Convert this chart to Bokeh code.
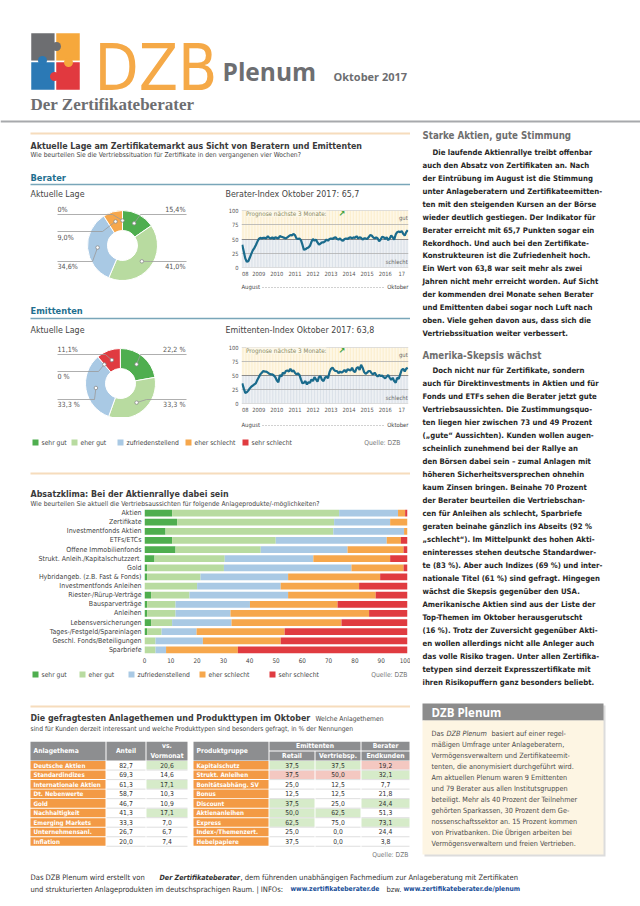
import math
import subprocess
from bokeh.plotting import figure
from bokeh.layouts import column, row
from bokeh.models import Range1d, FactorRange, FixedTicker, ColumnDataSource, Label
from bokeh.core.properties import value
from bokeh.embed import file_html
from bokeh.resources import INLINE

# ============================ DATA ============================
rating_names = ["sehr gut", "eher gut", "zufriedenstellend", "eher schlecht", "sehr schlecht"]

berater_shares = [15.4, 41.0, 34.6, 9.0, 0.0]
berater_share_labels = ["15,4%", "41,0%", "34,6%", "9,0%", "0%"]
emittenten_shares = [22.2, 33.3, 33.3, 0.0, 11.1]
emittenten_share_labels = ["22,2 %", "33,3 %", "33,3 %", "0 %", "11,1%"]

# monthly index values, Aug 2008 .. Oct 2017
berater_index = [40, 28, 16, 10, 11, 17, 24, 30, 34, 39,
                 45, 50, 52, 51, 52, 52, 51, 55, 52, 51,
                 53, 50, 53, 52, 51, 55, 54, 53, 52, 51,
                 53, 55, 57, 56, 59, 57, 51, 50, 51, 48,
                 40, 31, 32, 34, 35, 38, 45, 50, 47, 49,
                 44, 40, 42, 44, 44, 46, 49, 47, 50, 51,
                 50, 52, 53, 50, 49, 51, 48, 47, 50, 51,
                 50, 52, 53, 51, 53, 52, 55, 51, 53, 52,
                 49, 51, 51, 50, 53, 57, 56, 53, 51, 53,
                 51, 46, 49, 54, 53, 50, 53, 48, 51, 56,
                 53, 49, 58, 62, 63, 62, 64, 59, 56, 62,
                 65.7]
emittenten_index = [36, 27, 19, 20, 23, 27, 30, 32, 34, 36,
                    42, 47, 52, 55, 58, 57, 57, 55, 53, 52,
                    52, 50, 47, 41, 38, 51, 48, 55, 53, 58,
                    59, 57, 62, 57, 59, 55, 52, 54, 51, 43,
                    36, 37, 40, 34, 38, 37, 43, 40, 47, 43,
                    39, 47, 49, 42, 40, 46, 48, 45, 56, 62,
                    64, 60, 58, 58, 54, 57, 55, 57, 60, 56,
                    61, 60, 59, 64, 58, 56, 63, 65, 60, 69,
                    64, 56, 53, 55, 58, 58, 54, 52, 55, 51,
                    48, 51, 49, 50, 47, 45, 48, 51, 46, 42,
                    46, 40, 37, 46, 44, 52, 60, 62, 57, 62,
                    63.8]
index_year_ticks = [2, 11, 23, 35, 47, 59, 71, 83, 95, 106]
index_year_labels = ["08", "2009", "2010", "2011", "2012", "2013", "2014", "2015", "2016", "17"]
index_value_ticks = [0, 25, 50, 75, 100]

products = ["Aktien", "Zertifikate", "Investmentfonds Aktien", "ETFs/ETCs", "Offene Immobilienfonds",
            "Strukt. Anleih./Kapitalschutzzert.", "Gold", "Hybridangeb. (z.B. Fast & Fonds)",
            "Investmentfonds Anleihen", "Riester-/Rürup-Verträge", "Bausparverträge", "Anleihen",
            "Lebensversicherungen", "Tages-/Festgeld/Spareinlagen", "Geschl. Fonds/Beteiligungen", "Sparbriefe"]
prod_sehr_gut = [10.5, 12.4, 8.0, 10.5, 11.8, 3.8, 1.0, 1.0, 0.0, 2.5, 1.0, 1.0, 2.5, 1.0, 0.0, 0.0]
prod_eher_gut = [63.5, 59.7, 63.8, 39.4, 32.4, 26.7, 29.2, 20.3, 20.0, 14.6, 10.8, 10.8, 8.0, 5.5, 4.2, 4.2]
prod_zufrieden = [22.4, 21.3, 26.9, 42.2, 33.0, 33.7, 48.5, 33.3, 31.8, 37.5, 28.3, 20.9, 22.6, 13.3, 18.0, 4.0]
prod_eher_schlecht = [2.7, 6.6, 1.3, 5.4, 21.3, 29.2, 19.8, 35.0, 29.8, 33.3, 33.3, 52.7, 41.8, 33.5, 29.6, 27.3]
prod_sehr_schlecht = [0.9, 0.0, 0.0, 2.5, 1.5, 6.6, 1.5, 10.4, 18.4, 12.1, 26.6, 14.6, 25.1, 46.7, 48.2, 64.5]
bar_ticks = [0, 10, 20, 30, 40, 50, 60, 70, 80, 90, 100]

themes = ["Deutsche Aktien", "Standardindizes", "Internationale Aktien", "Dt. Nebenwerte", "Gold",
          "Nachhaltigkeit", "Emerging Markets", "Unternehmensanl.", "Inflation"]
theme_share = [82.7, 69.3, 61.3, 58.7, 46.7, 41.3, 33.3, 26.7, 20.0]
theme_vs_prev = [20.6, 14.6, 17.1, 10.3, 10.9, 17.1, 7.0, 6.7, 7.4]
theme_vs_flag = ["g", "", "g", "", "", "g", "", "", ""]

prodtypes = ["Kapitalschutz", "Strukt. Anleihen", "Bonitätsabhäng. SV", "Bonus", "Discount",
             "Aktienanleihen", "Express", "Index-/Themenzert.", "Hebelpapiere"]
pt_retail = [37.5, 37.5, 25.0, 12.5, 37.5, 50.0, 62.5, 25.0, 37.5]
pt_vertrieb = [37.5, 50.0, 12.5, 12.5, 25.0, 62.5, 75.0, 0.0, 0.0]
pt_endkunden = [19.2, 32.1, 7.7, 21.8, 24.4, 51.3, 73.1, 24.4, 3.8]
pt_retail_flag = ["g", "r", "", "", "g", "g", "g", "", ""]
pt_vertrieb_flag = ["g", "r", "", "", "", "g", "", "", ""]
pt_endkunden_flag = ["r", "g", "", "", "g", "", "g", "", ""]

para1 = ["Die laufende Aktienrallye treibt offenbar",
         "auch den Absatz von Zertifikaten an. Nach",
         "der Eintrübung im August ist die Stimmung",
         "unter Anlageberatern und Zertifikateemitten-",
         "ten mit den steigenden Kursen an der Börse",
         "wieder deutlich gestiegen. Der Indikator für",
         "Berater erreicht mit 65,7 Punkten sogar ein",
         "Rekordhoch. Und auch bei den Zertifikate-",
         "Konstrukteuren ist die Zufriedenheit hoch.",
         "Ein Wert von 63,8 war seit mehr als zwei",
         "Jahren nicht mehr erreicht worden. Auf Sicht",
         "der kommenden drei Monate sehen Berater",
         "und Emittenten dabei sogar noch Luft nach",
         "oben. Viele gehen davon aus, dass sich die",
         "Vertriebssituation weiter verbessert."]
para2 = ["Doch nicht nur für Zertifikate, sondern",
         "auch für Direktinvestments in Aktien und für",
         "Fonds und ETFs sehen die Berater jetzt gute",
         "Vertriebsaussichten. Die Zustimmungsquo-",
         "ten liegen hier zwischen 73 und 49 Prozent",
         "(„gute“ Aussichten). Kunden wollen augen-",
         "scheinlich zunehmend bei der Rallye an",
         "den Börsen dabei sein – zumal Anlagen mit",
         "höheren Sicherheitsversprechen ohnehin",
         "kaum Zinsen bringen. Beinahe 70 Prozent",
         "der Berater beurteilen die Vertriebschan-",
         "cen für Anleihen als schlecht, Sparbriefe",
         "geraten beinahe gänzlich ins Abseits (92 %",
         "„schlecht“). Im Mittelpunkt des hohen Akti-",
         "eninteresses stehen deutsche Standardwer-",
         "te (83 %). Aber auch Indizes (69 %) und inter-",
         "nationale Titel (61 %) sind gefragt. Hingegen",
         "wächst die Skepsis gegenüber den USA.",
         "Amerikanische Aktien sind aus der Liste der",
         "Top-Themen im Oktober herausgerutscht",
         "(16 %). Trotz der Zuversicht gegenüber Akti-",
         "en wollen allerdings nicht alle Anleger auch",
         "das volle Risiko tragen. Unter allen Zertifika-",
         "tetypen sind derzeit Expresszertifikate mit",
         "ihren Risikopuffern ganz besonders beliebt."]
box_lines = ["mäßigen Umfrage unter Anlageberatern,",
             "Vermögensverwaltern und Zertifikateemit-",
             "tenten, die anonymisiert durchgeführt wird.",
             "Am aktuellen Plenum waren 9 Emittenten",
             "und 79 Berater aus allen Institutsgruppen",
             "beteiligt. Mehr als 40 Prozent der Teilnehmer",
             "gehörten Sparkassen, 30 Prozent dem Ge-",
             "nossenschaftssektor an. 15 Prozent kommen",
             "von Privatbanken. Die Übrigen arbeiten bei",
             "Vermögensverwaltern und freien Vertrieben."]

# ============================ STYLE ============================
def _families():
    fams = set()
    try:
        out = subprocess.run(["fc-list", ":", "family"], capture_output=True, text=True, timeout=20).stdout
        for line in out.splitlines():
            for f in line.split(","):
                fams.add(f.strip())
    except Exception:
        pass
    return fams

FAMS = _families()
if "Liberation Sans Narrow" in FAMS:
    NARROW, K = "Liberation Sans Narrow", 1.0
elif "DejaVu Sans Condensed" in FAMS:
    NARROW, K = "DejaVu Sans Condensed", 0.84
else:
    NARROW, K = "Roboto", 0.84


def fs(px, font=None):
    k = K if (font is None or font == NARROW) else 1.0
    return f"{px * k:.2f}px"


RATING_COLORS = ["#4fae4f", "#b8dba0", "#a9c9e4", "#f6a74c", "#e03b40"]
ORANGE_LINE = "#f6dcbc"
BLUE = "#1f6f8f"
BLUE_LINE = "#79a6b9"
GREY_TXT = "#444444"
TABLE_ORANGE = "#f39a45"
TABLE_HEAD = "#8d8e90"
CELL_GREEN = "#d6ebc9"
CELL_RED = "#f4c8c1"


def base_fig(w, h, xr, yr, **kw):
    p = figure(width=w, height=h, x_range=xr, y_range=yr, output_backend="svg",
               toolbar_location=None, **kw)
    p.outline_line_color = None
    p.background_fill_color = "white"
    p.border_fill_color = "white"
    p.frame_align = False
    return p


def canvas(w, h, x0, y0):
    return base_fig(w, h, Range1d(x0, x0 + w), Range1d(y0 + h, y0), min_border=0,
                    x_axis_type=None, y_axis_type=None)


def T(p, x, y, s, size, color=GREY_TXT, font=None, style="normal", align="left", baseline="middle"):
    if not isinstance(s, list):
        x, y, s = [x], [y], [s]
    f = font or NARROW
    p.text(x=x, y=y, text=s, text_font=value(f), text_font_size=value(fs(size, f)),
           text_color=color, text_font_style=style, text_align=align, text_baseline=baseline)


def hl(p, x0, x1, y, color, width=1.0, dash="solid"):
    p.line([x0, x1], [y, y], line_color=color, line_width=width, line_dash=dash)


def de(v):
    return f"{v:.1f}".replace(".", ",")


# ============================ HEADER ============================
ph = canvas(640, 125, 0, 0)
ph.quad(left=[30, 55, 30, 55], right=[55, 80, 55, 80], top=[32, 32, 61, 61], bottom=[61, 61, 90, 90],
        fill_color=["#6d6e71", "#f6a83c", "#2b79b5", "#e1393f"], line_color="white", line_width=1.5)
ph.scatter(x=[56, 42, 68, 54], y=[46, 60, 62, 76], size=9, marker="circle",
           fill_color=["#6d6e71", "#2b79b5", "#f6a83c", "#e1393f"], line_color=None)
T(ph, 94, 67, "DZB", 76, "#f5a947", font=NARROW)
T(ph, 222, 71, "Plenum", 24.5, "#6d6e71", font="Open Sans", style="bold")
T(ph, 333, 76, "Oktober 2017", 11, "#6d6e71", font="Open Sans", style="bold")
T(ph, 30, 104, "Der Zertifikateberater", 17, "#6d6e71", font="Liberation Serif", style="bold")
hl(ph, 0, 640, 121, "#a7a9ac", 2)

# ============================ SECTION 1 HEAD ============================
c1 = canvas(410, 75, 0, 125)
hl(c1, 30, 410, 133, ORANGE_LINE, 2)
T(c1, 30, 145, "Aktuelle Lage am Zertifikatemarkt aus Sicht von Beratern und Emittenten", 10.5, "#3a3a3a",
  style="bold")
T(c1, 30, 154.5, "Wie beurteilen Sie die Vertriebssituation für Zertifikate in den vergangenen vier Wochen?",
  8, "#444444")
T(c1, 30, 177, "Berater", 11, BLUE, style="bold")
hl(c1, 30, 410, 184, BLUE_LINE, 1.5)
T(c1, 30, 193.5, "Aktuelle Lage", 10.5)
T(c1, 225, 193.5, "Berater-Index Oktober 2017: 65,7", 10.5)


# ============================ DONUTS ============================
def donut_fig(shares, labels, cx, cy, x0, y0, w, h, specs):
    p = base_fig(w, h, Range1d(x0 - cx, x0 + w - cx), Range1d(cy - (y0 + h), cy - y0), min_border=0,
                 x_axis_type=None, y_axis_type=None)
    starts, ends, mids = [], [], []
    cum = 0.0
    for s in shares:
        a0 = math.pi / 2 - 2 * math.pi * cum / 100.0
        cum += s
        a1 = math.pi / 2 - 2 * math.pi * cum / 100.0
        starts.append(a0)
        ends.append(a1)
        mids.append((a0 + a1) / 2)
    keep = [i for i, s in enumerate(shares) if s > 0]
    src = ColumnDataSource(dict(s=[starts[i] for i in keep], e=[ends[i] for i in keep],
                                c=[RATING_COLORS[i] for i in keep]))
    p.annular_wedge(x=0, y=0, inner_radius=15, outer_radius=35, start_angle="s", end_angle="e",
                    direction="clock", fill_color="c", line_color="white", line_width=1, source=src)
    xs, ys, mx, my = [], [], [], []
    for i, (tc, ly, xo, xe) in enumerate(specs):
        m = mids[i]
        px, py = 25 * math.cos(m), 25 * math.sin(m)
        mx.append(px)
        my.append(py)
        xs.append([xo - cx, xe - cx, px])
        ys.append([cy - ly, cy - ly, py])
        if xo > cx:
            T(p, xo - cx - 1, cy - tc, labels[i], 8.5, "#555555", align="right")
        else:
            T(p, xo - cx, cy - tc, labels[i], 8.5, "#555555", align="left")
    p.multi_line(xs=xs, ys=ys, line_color="#9a9a9a", line_width=0.8)
    p.scatter(x=mx, y=my, size=3.5, marker="circle", fill_color="white", line_color="#8a8a8a",
              line_width=0.8)
    return p


berater_specs = [(209, 214, 186, 140), (266, 261, 186, 150), (266, 261, 57, 92),
                 (237, 231, 57, 102), (209, 214, 57, 112)]
emittenten_specs = [(349, 354, 186, 140), (404, 399, 186, 146), (404, 399, 57, 94),
                    (376, 371, 57, 98), (349, 354, 57, 105)]

d1 = donut_fig(berater_shares, berater_share_labels, 122, 245, 0, 200, 222, 80, berater_specs)
d2 = donut_fig(emittenten_shares, emittenten_share_labels, 120, 383, 0, 337, 222, 80, emittenten_specs)


# ============================ INDEX CHARTS ============================
def index_chart(vals, frame_h, top_b, bottom_b):
    n = len(vals)
    months = list(range(n))
    p = base_fig(188, top_b + frame_h + bottom_b, Range1d(-0.5, n - 0.5), Range1d(0, 100),
                 min_border_left=19, min_border_right=2, min_border_top=top_b, min_border_bottom=bottom_b)
    p.xgrid.visible = False
    p.ygrid.visible = False
    p.vbar(x=months, bottom=50, top=100, width=0.72, fill_color="#fcefcf", line_color=None)
    p.vbar(x=months, bottom=0, top=50, width=0.72, fill_color="#dce2e9", line_color=None)
    p.hspan(y=[0, 25, 75, 100], line_color="#b0b0b0", line_width=0.8)
    p.hspan(y=[50], line_color="#8c8c8c", line_width=1)
    p.line(x=months, y=vals, line_color="#1a6b8c", line_width=2.2)
    p.add_layout(Label(x=2.5, y=95, text="Prognose nächste 3 Monate:", text_font=NARROW,
                       text_font_size=fs(7.5), text_color="#8a8a5e", text_baseline="middle",
                       background_fill_color="#fdf8ea"))
    p.add_layout(Label(x=64, y=95, text="↗", text_font="DejaVu Sans", text_font_size="8px",
                       text_color="#3aa03a", text_baseline="middle", text_font_style="bold"))
    p.add_layout(Label(x=n - 1, y=86, text="gut", text_font=NARROW, text_font_size=fs(7),
                       text_color="#666666", text_align="right", text_baseline="middle"))
    p.add_layout(Label(x=n - 1, y=9, text="schlecht", text_font=NARROW, text_font_size=fs(7),
                       text_color="#666666", text_align="right", text_baseline="middle"))
    p.yaxis.ticker = FixedTicker(ticks=index_value_ticks)
    p.xaxis.ticker = FixedTicker(ticks=index_year_ticks)
    p.xaxis.major_label_overrides = dict(zip(index_year_ticks, index_year_labels))
    for ax in p.axis:
        ax.axis_line_color = None
        ax.major_tick_line_color = None
        ax.minor_tick_line_color = None
        ax.major_tick_out = 0
        ax.major_tick_in = 0
        ax.minor_tick_out = 0
        ax.minor_tick_in = 0
        ax.major_label_text_font = NARROW
        ax.major_label_text_font_size = fs(6.8)
        ax.major_label_text_color = "#555555"
        ax.major_label_standoff = 3
    return p


l1 = index_chart(berater_index, 57, 10, 13)
l2 = index_chart(emittenten_index, 56, 10, 14)

# ============================ MID CANVAS ============================
c2 = canvas(410, 57, 0, 280)
T(c2, 241, 286, "August", 7)
hl(c2, 262, 384, 287, "#8a8a8a", 0.8, "1 2")
T(c2, 408, 286, "Oktober", 7, align="right")
T(c2, 30, 310, "Emittenten", 11, BLUE, style="bold")
hl(c2, 30, 410, 318, BLUE_LINE, 1.5)
T(c2, 30, 329, "Aktuelle Lage", 10.5)
T(c2, 225, 329, "Emittenten-Index Oktober 2017: 63,8", 10.5)

c3 = canvas(410, 91, 0, 417)
T(c3, 241, 424, "August", 7)
hl(c3, 262, 384, 425, "#8a8a8a", 0.8, "1 2")
T(c3, 408, 424, "Oktober", 7, align="right")
leg1_x = [32, 71, 117, 185, 242]
c3.quad(left=leg1_x, right=[x + 6 for x in leg1_x], top=[439] * 5, bottom=[445] * 5,
        fill_color=RATING_COLORS, line_color=None)
T(c3, [x + 9 for x in leg1_x], [442] * 5, rating_names, 8)
T(c3, 400, 442, "Quelle: DZB", 8, "#777777", align="right")
hl(c3, 30, 410, 473, ORANGE_LINE, 2)
T(c3, 30, 493, "Absatzklima: Bei der Aktienrallye dabei sein", 10.5, "#3a3a3a", style="bold")
T(c3, 30, 503, "Wie beurteilen Sie aktuell die Vertriebsaussichten für folgende Anlageprodukte/-möglichkeiten?",
  8, "#444444")

# ============================ STACKED BARS ============================
pb = base_fig(410, 160, Range1d(0, 100), FactorRange(factors=products[::-1]),
              min_border_left=144, min_border_right=3, min_border_top=0, min_border_bottom=14)
pb.xgrid.visible = False
pb.ygrid.visible = False
bsrc = ColumnDataSource(dict(product=products, sg=prod_sehr_gut, eg=prod_eher_gut, zu=prod_zufrieden,
                             es=prod_eher_schlecht, ss=prod_sehr_schlecht))
pb.hbar_stack(["sg", "eg", "zu", "es", "ss"], y="product", height=0.74, color=RATING_COLORS,
              line_color=None, source=bsrc)
pb.xaxis.ticker = FixedTicker(ticks=bar_ticks)
for ax in pb.axis:
    ax.axis_line_color = None
    ax.major_tick_line_color = None
    ax.minor_tick_line_color = None
    ax.major_tick_out = 0
    ax.major_tick_in = 0
    ax.minor_tick_out = 0
    ax.major_label_text_font = NARROW
    ax.major_label_text_color = "#444444"
    ax.major_label_standoff = 3
pb.yaxis.major_label_text_font_size = fs(8.3)
pb.xaxis.major_label_text_font_size = fs(7.5)

c4 = canvas(410, 73, 0, 668)
leg2_x = [32, 79, 128, 199, 269]
c4.quad(left=leg2_x, right=[x + 6 for x in leg2_x], top=[671] * 5, bottom=[677] * 5,
        fill_color=RATING_COLORS, line_color=None)
T(c4, [x + 9 for x in leg2_x], [674] * 5, rating_names, 8)
T(c4, 407, 674, "Quelle: DZB", 8, "#777777", align="right")
hl(c4, 30, 410, 706, ORANGE_LINE, 2)
T(c4, 30, 717, "Die gefragtesten Anlagethemen und Produkttypen im Oktober", 10.5, "#3a3a3a", style="bold")
T(c4, 315, 718, "Welche Anlagethemen", 8, "#444444")
T(c4, 30, 728, "sind für Kunden derzeit interessant und welche Produkttypen sind besonders gefragt, in % der Nennungen",
  8, "#444444")

# ============================ TABLE ============================
pt = base_fig(410, 120, Range1d(0, 410), Range1d(12.1, -0.5), min_border=0,
              x_axis_type=None, y_axis_type=None)
LC = [(30, 105), (106, 145), (146, 187)]
RC = [(193, 268), (269, 314), (315, 360), (361, 409)]


def mid(c):
    return (c[0] + c[1]) / 2


pt.quad(left=[LC[0][0], LC[1][0], LC[2][0], RC[0][0]], right=[LC[0][1], LC[1][1], LC[2][1], RC[0][1]],
        top=[-0.5] * 4, bottom=[1.5] * 4, fill_color=TABLE_HEAD, line_color=None)
pt.quad(left=[RC[1][0], RC[3][0]], right=[RC[2][1], RC[3][1]], top=[-0.5] * 2, bottom=[0.45] * 2,
        fill_color=TABLE_HEAD, line_color=None)
pt.quad(left=[RC[1][0], RC[2][0], RC[3][0]], right=[RC[1][1], RC[2][1], RC[3][1]], top=[0.55] * 3,
        bottom=[1.5] * 3, fill_color=TABLE_HEAD, line_color=None)
WH = "white"
T(pt, LC[0][0] + 3, 0.5, "Anlagethema", 8, WH, style="bold")
T(pt, mid(LC[1]), 0.5, "Anteil", 8, WH, style="bold", align="center")
T(pt, mid(LC[2]), 0.0, "vs.", 8, WH, style="bold", align="center")
T(pt, mid(LC[2]), 1.0, "Vormonat", 8, WH, style="bold", align="center")
T(pt, RC[0][0] + 3, 0.5, "Produktgruppe", 8, WH, style="bold")
T(pt, (RC[1][0] + RC[2][1]) / 2, 0.0, "Emittenten", 8, WH, style="bold", align="center")
T(pt, mid(RC[3]), 0.0, "Berater", 8, WH, style="bold", align="center")
T(pt, [mid(RC[1]), mid(RC[2]), mid(RC[3])], [1.0] * 3, ["Retail", "Vertriebsp.", "Endkunden"], 8, WH,
  style="bold", align="center")

FLAGC = {"g": CELL_GREEN, "r": CELL_RED}
rows_l = [i + 2 for i in range(len(themes))]
rows_r = [i + 2 for i in range(len(prodtypes))]
pt.quad(left=[LC[0][0]] * len(rows_l), right=[LC[0][1]] * len(rows_l), top=[r - 0.45 for r in rows_l],
        bottom=[r + 0.45 for r in rows_l], fill_color=TABLE_ORANGE, line_color=None)
pt.quad(left=[RC[0][0]] * len(rows_r), right=[RC[0][1]] * len(rows_r), top=[r - 0.45 for r in rows_r],
        bottom=[r + 0.45 for r in rows_r], fill_color=TABLE_ORANGE, line_color=None)
hq = dict(l=[], r=[], t=[], b=[], c=[])
for flags, col, rows in [(theme_vs_flag, LC[2], rows_l), (pt_retail_flag, RC[1], rows_r),
                         (pt_vertrieb_flag, RC[2], rows_r), (pt_endkunden_flag, RC[3], rows_r)]:
    for f, r in zip(flags, rows):
        if f:
            hq["l"].append(col[0])
            hq["r"].append(col[1])
            hq["t"].append(r - 0.45)
            hq["b"].append(r + 0.45)
            hq["c"].append(FLAGC[f])
pt.quad(left=hq["l"], right=hq["r"], top=hq["t"], bottom=hq["b"], fill_color=hq["c"], line_color=None)
sep_x0, sep_x1, sep_y = [], [], []
for r in rows_l:
    sep_x0 += [LC[1][0], LC[2][0]]
    sep_x1 += [LC[1][1], LC[2][1]]
    sep_y += [r + 0.5, r + 0.5]
for r in rows_r:
    sep_x0 += [RC[1][0], RC[2][0], RC[3][0]]
    sep_x1 += [RC[1][1], RC[2][1], RC[3][1]]
    sep_y += [r + 0.5] * 3
pt.segment(x0=sep_x0, x1=sep_x1, y0=sep_y, y1=sep_y, line_color="#d5d5d5", line_width=0.8)
T(pt, [LC[0][0] + 3] * len(rows_l), rows_l, themes, 7.4, WH, style="bold")
T(pt, [mid(LC[1])] * len(rows_l), rows_l, [de(v) for v in theme_share], 8, "#333333", align="center")
T(pt, [mid(LC[2])] * len(rows_l), rows_l, [de(v) for v in theme_vs_prev], 8, "#333333", align="center")
T(pt, [RC[0][0] + 3] * len(rows_r), rows_r, prodtypes, 7.4, WH, style="bold")
T(pt, [mid(RC[1])] * len(rows_r), rows_r, [de(v) for v in pt_retail], 8, "#333333", align="center")
T(pt, [mid(RC[2])] * len(rows_r), rows_r, [de(v) for v in pt_vertrieb], 8, "#333333", align="center")
T(pt, [mid(RC[3])] * len(rows_r), rows_r, [de(v) for v in pt_endkunden], 8, "#333333", align="center")
T(pt, 408, 11.4, "Quelle: DZB", 8, "#777777", align="right")

left_col = column(c1, row(d1, l1), c2, row(d2, l2), c3, pb, c4, pt)

# ============================ RIGHT TEXT COLUMN ============================
pr = canvas(230, 736, 410, 125)
T(pr, 422, 135, "Starke Aktien, gute Stimmung", 11.5, "#6e6e6e", style="bold")
T(pr, [432] + [422] * (len(para1) - 1), [152 + 12.93 * k for k in range(len(para1))], para1, 9.2,
  "#262626", style="bold")
T(pr, 422, 355, "Amerika-Skepsis wächst", 11.5, "#6e6e6e", style="bold")
T(pr, [432] + [422] * (len(para2) - 1), [370 + 13.0 * k for k in range(len(para2))], para2, 9.2,
  "#262626", style="bold")
pr.quad(left=[424], right=[605], top=[705], bottom=[856], fill_color="#dcdcdc", line_color=None)
pr.quad(left=[422], right=[603], top=[703], bottom=[720], fill_color="#8c8c8c", line_color=None)
pr.quad(left=[422], right=[603], top=[720], bottom=[854], fill_color="#fdf5e3", line_color=None)
T(pr, 431, 712, "DZB Plenum", 11.5, "white", font="Open Sans", style="bold")
T(pr, 431, 733, "Das", 8.6, "#4a4a4a")
T(pr, 446, 733, "DZB Plenum", 8.6, "#4a4a4a", style="italic")
T(pr, 491, 733, "basiert auf einer regel-", 8.6, "#4a4a4a")
T(pr, [431] * len(box_lines), [744 + 11 * k for k in range(len(box_lines))], box_lines, 8.6, "#4a4a4a")

mid_row = row(left_col, pr)

# ============================ FOOTER ============================
pf = canvas(640, 43, 0, 861)
T(pf, 30, 877, "Das DZB Plenum wird erstellt von", 9, "#333333")
T(pf, 159, 877, "Der Zertifikateberater", 8.5, "#333333", style="bold italic")
T(pf, 240, 877, ", dem führenden unabhängigen Fachmedium zur Anlageberatung mit Zertifikaten", 9, "#333333")
T(pf, 30, 888.5, "und strukturierten Anlageprodukten im deutschsprachigen Raum. | INFOs:", 9, "#333333")
T(pf, 290, 888.5, "www.zertifikateberater.de", 8, "#1a4f99", style="bold")
T(pf, 386, 888.5, "bzw.", 9, "#333333")
T(pf, 403, 888.5, "www.zertifikateberater.de/plenum", 8, "#1a4f99", style="bold")

page = column(ph, mid_row, pf)

open("out.html", "w").write(file_html(page, INLINE))
